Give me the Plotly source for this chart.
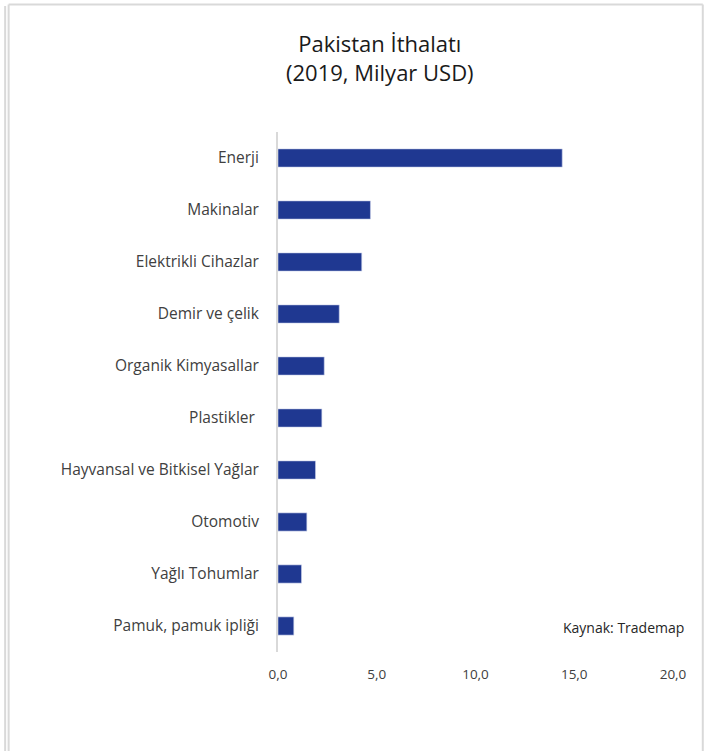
import plotly.graph_objects as go

categories = ["Enerji", "Makinalar", "Elektrikli Cihazlar", "Demir ve çelik",
              "Organik Kimyasallar", "Plastikler ", "Hayvansal ve Bitkisel Yağlar",
              "Otomotiv", "Yağlı Tohumlar", "Pamuk, pamuk ipliği"]
values = [14.39, 4.68, 4.24, 3.10, 2.34, 2.22, 1.90, 1.46, 1.19, 0.80]
tick_vals = [0, 5, 10, 15, 20]
tick_text = ["0,0", "5,0", "10,0", "15,0", "20,0"]

W, H = 709, 751
pl, pr, pt, pb = 277.5, 672.7, 132, 652
L, R, T, B = pl, (W - pr), pt, (H - pb)
pw, ph = W - L - R, H - T - B

def px(x):
    return (x - L) / pw

def py(y):
    return (H - B - y) / ph

fig = go.Figure(go.Bar(
    y=categories, x=values, orientation="h",
    marker=dict(color="#1f3891", line=dict(color="#c9d0ea", width=0.6)),
    width=0.35,
))

font = "'Open Sans', sans-serif"
border = dict(color="#d9d9d9", width=2)
fig.update_layout(
    width=W, height=H,
    margin=dict(l=L, r=R, t=T, b=B),
    plot_bgcolor="white", paper_bgcolor="white",
    showlegend=False,
    separators=",.",
    font=dict(family=font, color="#404040"),
    xaxis=dict(range=[0, 20], tickvals=tick_vals, ticktext=tick_text,
               showgrid=False, zeroline=False, showline=False,
               tickfont=dict(size=13.5, color="#404040"), ticks="",
               ticklabelstandoff=12),
    yaxis=dict(autorange=False, range=[9.5, -0.5], categoryorder="array",
               categoryarray=categories, showgrid=False, zeroline=False,
               showline=True, linecolor="#d9d9d9", linewidth=2,
               ticks="", tickfont=dict(size=15.5, color="#404040"),
               ticklabelstandoff=14),
    annotations=[
        dict(text="Pakistan İthalatı<br>(2019, Milyar USD)", xref="paper", yref="paper",
             x=px(380), y=py(57), showarrow=False, xanchor="center", yanchor="middle",
             font=dict(size=22, color="#1a1a1a", family=font), align="center"),
        dict(text="Kaynak: Trademap", xref="paper", yref="paper",
             x=px(686), y=py(627), showarrow=False, xanchor="right", yanchor="middle",
             font=dict(size=14, color="#262626", family=font)),
    ],
    shapes=[
        dict(type="line", xref="paper", yref="paper", x0=px(8), x1=px(702.5),
             y0=py(4.5), y1=py(4.5), line=border),
        dict(type="line", xref="paper", yref="paper", x0=px(8), x1=px(8),
             y0=py(4.5), y1=py(760), line=border),
        dict(type="line", xref="paper", yref="paper", x0=px(702.5), x1=px(702.5),
             y0=py(4.5), y1=py(760), line=border),
        dict(type="line", xref="paper", yref="paper", x0=px(4.5), x1=px(4.5),
             y0=py(6), y1=py(760), line=border),
    ],
)

fig.write_html("out.html", config={"displayModeBar": False},
               post_script="document.body.style.margin='0';")
